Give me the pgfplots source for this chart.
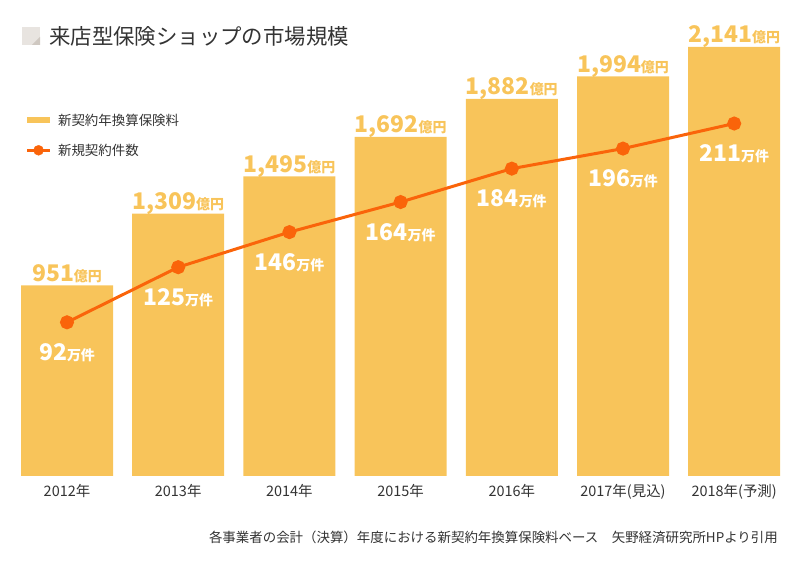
\documentclass[border=0pt]{standalone}
\usepackage{pgfplots}
\pgfplotsset{compat=1.18}
\usepackage{fontspec}
\setmainfont{Noto Sans CJK JP}
\definecolor{barcol}{HTML}{F8C45A}
\definecolor{linecol}{HTML}{FA640A}
\definecolor{txt}{HTML}{333333}
\definecolor{iconA}{HTML}{E8E4E0}
\definecolor{iconB}{HTML}{CFC8C1}
\begin{document}
\begin{tikzpicture}[x=1bp,y=1bp]
\path[use as bounding box] (0,0) rectangle (800,561);
% title
\fill[iconA] (22,516) rectangle (40,534);
\fill[iconB] (40,516) -- (40,524) -- (32,516) -- cycle;
\node[anchor=west, inner sep=0pt, text=txt, font=\fontsize{21.5}{21.5}\selectfont] at (49,525) {来店型保険ショップの市場規模};
% bars
\begin{axis}[
  at={(11.4bp,85bp)}, anchor=south west,
  scale only axis, width=778.4bp, height=446bp,
  xmin=-0.5, xmax=6.5, ymin=0, ymax=2225.5,
  axis line style={draw=none}, major tick length=0pt,
  ytick=\empty,
  xtick={0,1,2,3,4,5,6},
  xticklabels={2012年,2013年,2014年,2015年,2016年,2017年(見込),2018年(予測)},
  xticklabel style={font=\fontsize{14.5}{14.5}\selectfont, text=txt, anchor=base, yshift=-21bp},
  ybar, bar width=92bp,
  /pgf/number format/.cd, fixed, precision=0, 1000 sep={,}, assume math mode=true,
  /pgfplots/.cd,
  nodes near coords={\pgfmathprintnumber{\pgfplotspointmeta}{\fontsize{14}{14}\selectfont 億円}},
  every node near coord/.append style={anchor=base, yshift=4bp, text=barcol, font=\fontsize{23}{23}\selectfont\bfseries},
  legend style={at={(0.016,0.8165)}, anchor=north west, draw=none, fill=none, inner sep=0pt,
     font=\fontsize{13.5}{13.5}\selectfont, text=txt, row sep=13bp,
     nodes={inner sep=2bp}},
  legend cell align=left,
]
\addplot[fill=barcol, draw=none,
  legend image code/.code={\draw[barcol, line width=6bp] (0bp,0bp) -- (23bp,0bp);}]
  coordinates {(0,951) (1,1309) (2,1495) (3,1692) (4,1882) (5,1994) (6,2141)};
\addlegendentry{\hspace{3bp}新契約年換算保険料}
\addlegendimage{legend image code/.code={\draw[linecol, line width=3bp] (0bp,0bp) -- (23bp,0bp); \fill[linecol] (11.5bp,0bp) circle (5bp);}}
\addlegendentry{\hspace{3bp}新規契約件数}
\end{axis}
% line
\begin{axis}[
  at={(11.4bp,85bp)}, anchor=south west,
  scale only axis, width=778.4bp, height=446bp,
  xmin=-0.5, xmax=6.5, ymin=0, ymax=267,
  hide axis,
  /pgf/number format/.cd, fixed, precision=0, assume math mode=true,
  /pgfplots/.cd,
  nodes near coords={\pgfmathprintnumber{\pgfplotspointmeta}{\fontsize{14}{14}\selectfont 万件}},
  every node near coord/.append style={anchor=base, yshift=-38bp, text=white, font=\fontsize{23}{23}\selectfont\bfseries},
]
\addplot[linecol, line width=3bp, mark=*, mark size=5.5bp, mark options={fill=linecol, draw=none}]
  coordinates {(0,92) (1,125) (2,146) (3,164) (4,184) (5,196) (6,211)};
\end{axis}
% source
\node[anchor=east, inner sep=0pt, text=txt, font=\fontsize{13.5}{13.5}\selectfont] at (778,24) {各事業者の会計（決算）年度における新契約年換算保険料ベース　矢野経済研究所HPより引用};
\end{tikzpicture}
\end{document}
